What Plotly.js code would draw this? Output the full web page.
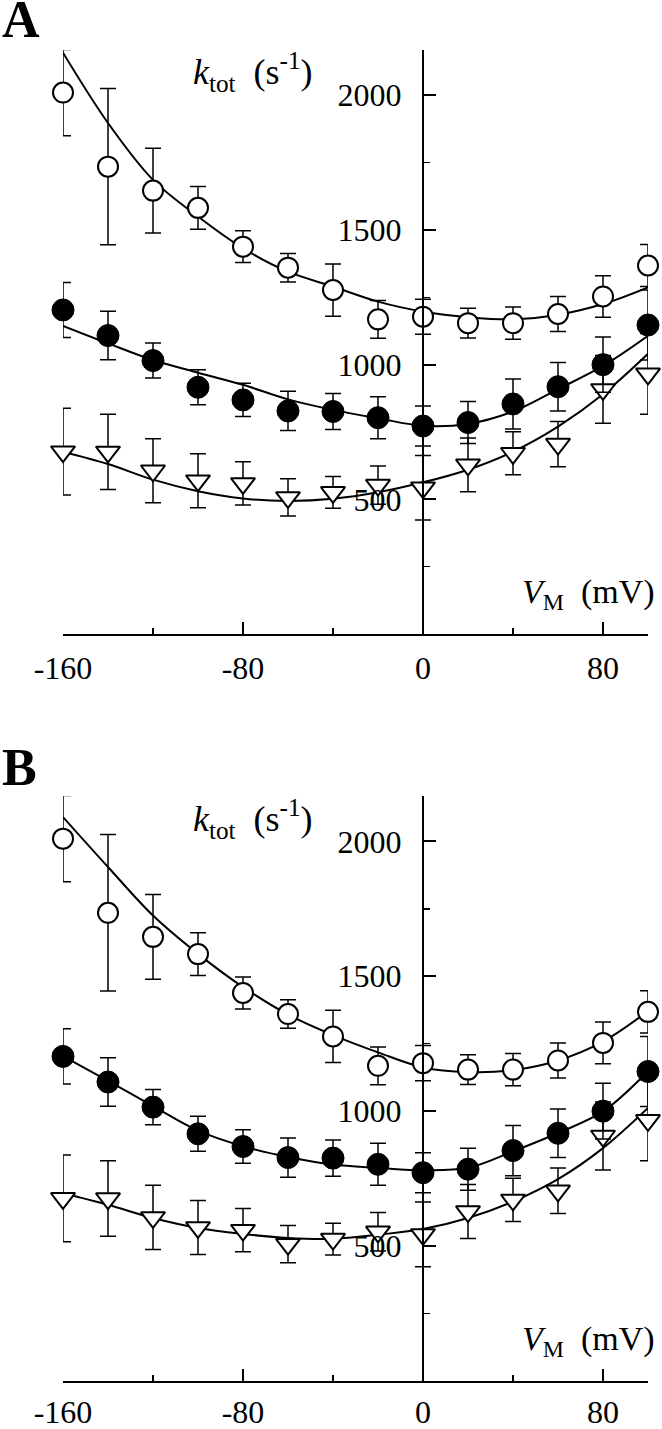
<!DOCTYPE html>
<html>
<head>
<meta charset="utf-8">
<script src="https://cdn.plot.ly/plotly-3.0.1.min.js"></script>
<style>
  html, body { margin: 0; padding: 0; background: #fff; }
  #chart { width: 662px; height: 1429px; }
</style>
</head>
<body>
<div id="chart"></div>
<script>
// ---- data ----
const voltage = [-160, -140, -120, -100, -80, -60, -40, -20, 0, 20, 40, 60, 80, 100];

const openY    = [2010, 1735, 1646, 1582, 1438, 1360, 1277, 1168, 1178, 1154, 1154, 1188, 1253, 1368];
const openErr  = [160, 290, 157, 79, 59, 53, 97, 70, 65, 55, 60, 65, 77, 78];
const filledY  = [1203, 1108, 1015, 916, 869, 828, 826, 803, 772, 785, 854, 918, 1000, 1147];
const filledErr= [102, 90, 65, 65, 62, 73, 67, 78, 74, 78, 93, 90, 103, 130];
const triY     = [677, 676, 606, 569, 559, 507, 526, 553, 543, 628, 671, 705, 908, 966];
const triErr   = [161, 140, 119, 100, 80, 69, 59, 71, 120, 100, 80, 84, 126, 150];

// fitted curves, panel A
const fitOpenA   = [2158, 1897, 1686, 1550, 1432, 1345, 1290, 1234, 1197, 1176, 1168, 1185, 1225, 1287];
const fitFilledA = [1144, 1079, 1017, 970, 925, 871, 832, 801, 773, 780, 826, 909, 995, 1107];
const fitTriA    = [677, 631, 573, 530, 503, 494, 502, 526, 563, 610, 677, 770, 890, 1040];
// fitted curves, panel B
const fitOpenB   = [2090, 1905, 1725, 1583, 1460, 1358, 1282, 1218, 1162, 1145, 1152, 1188, 1258, 1371];
const fitFilledB = [1204, 1112, 1019, 928, 870, 830, 802, 790, 781, 790, 851, 919, 999, 1148];
const fitTriB    = [696, 653, 604, 567, 545, 530, 527, 542, 563, 604, 665, 748, 863, 1012];

const xTickVals = [-160, -80, 0, 80];
const xTickText = ['-160', '-80', '0', '80'];
const xMinorVals = [-120, -40, 40];
const yTickVals = [500, 1000, 1500, 2000];
const yTickText = ['500', '1000', '1500', '2000'];
const yMinorVals = [250, 750, 1250, 1750];

// ---- figure geometry ----
const W = 662, H = 1429, ML = 63, MR = 14;
const PW = W - ML - MR;
const px = p => (p - ML) / PW;
const py = p => 1 - p / H;

const FONT = 'Liberation Serif, Times New Roman, serif';

function panel(xa, ya, fits) {
  const xs = xa === 'x' ? 'x' : 'x2';
  const ys = ya === 'y' ? 'y' : 'y2';
  const tr = [];
  fits.forEach(f => tr.push({
    x: voltage, y: f, xaxis: xs, yaxis: ys, mode: 'lines', type: 'scatter',
    line: {color: '#000', width: 2, shape: 'spline', smoothing: 1}, hoverinfo: 'skip', showlegend: false
  }));
  const eb = arr => ({type: 'data', array: arr, visible: true, color: '#000', thickness: 1.5, width: 8});
  tr.push({x: voltage, y: triY, xaxis: xs, yaxis: ys, mode: 'markers', type: 'scatter', cliponaxis: false,
    error_y: eb(triErr), marker: {symbol: 'triangle-down', size: 21, color: '#fff', line: {color: '#000', width: 2}}, showlegend: false});
  tr.push({x: voltage, y: filledY, xaxis: xs, yaxis: ys, mode: 'markers', type: 'scatter', cliponaxis: false,
    error_y: eb(filledErr), marker: {symbol: 'circle', size: 22, color: '#000', line: {color: '#000', width: 1}}, showlegend: false});
  tr.push({x: voltage, y: openY, xaxis: xs, yaxis: ys, mode: 'markers', type: 'scatter', cliponaxis: false,
    error_y: eb(openErr), marker: {symbol: 'circle', size: 20, color: '#fff', line: {color: '#000', width: 2}}, showlegend: false});
  return tr;
}

const traces = [].concat(
  panel('x', 'y', [fitOpenA, fitFilledA, fitTriA]),
  panel('x2', 'y2', [fitOpenB, fitFilledB, fitTriB])
);

function xaxisDef(anchor, standoff) {
  return {
    domain: [0, 1], range: [-160, 100], anchor: anchor, fixedrange: true,
    showline: true, linecolor: '#000', linewidth: 2,
    ticks: 'inside', ticklen: 12, tickwidth: 2, tickcolor: '#000',
    tickmode: 'array', tickvals: xTickVals, ticktext: xTickText,
    tickfont: {family: FONT, size: 32, color: '#000'}, ticklabelstandoff: standoff,
    minor: {tickmode: 'array', tickvals: xMinorVals, ticks: 'inside', ticklen: 6, tickwidth: 1.5, tickcolor: '#000', showgrid: false},
    showgrid: false, zeroline: false
  };
}
function yaxisDef(anchor, dom) {
  return {
    domain: dom, range: [0, 2168], anchor: 'free', position: px(423), side: 'left', fixedrange: true,
    showline: true, linecolor: '#000', linewidth: 2,
    ticks: 'inside', ticklen: 12, tickwidth: 2, tickcolor: '#000',
    tickmode: 'array', tickvals: yTickVals, ticktext: yTickText,
    tickfont: {family: FONT, size: 32, color: '#000'}, ticklabelstandoff: 14,
    minor: {tickmode: 'array', tickvals: yMinorVals, ticks: 'inside', ticklen: 6, tickwidth: 1.5, tickcolor: '#000', showgrid: false},
    showgrid: false, zeroline: false
  };
}

function labels(offset) {
  return [
    {xref: 'paper', yref: 'paper', x: px(0), y: py(20 + offset), xanchor: 'left', yanchor: 'middle',
     text: '<b>' + (offset ? 'B' : 'A') + '</b>', showarrow: false, font: {family: FONT, size: 52, color: '#000'}},
    {xref: 'paper', yref: 'paper', x: px(191), y: py(72 + offset), xanchor: 'left', yanchor: 'middle',
     text: '<i>k</i><sub>tot</sub>&nbsp;&nbsp;(s<sup>-1</sup>)', showarrow: false, font: {family: FONT, size: 36, color: '#000'}},
    {xref: 'paper', yref: 'paper', x: px(657), y: py(594 + offset), xanchor: 'right', yanchor: 'middle',
     text: '<i>V</i><sub>M</sub>&nbsp;&nbsp;(mV)', showarrow: false, font: {family: FONT, size: 34, color: '#000'}}
  ];
}

const layout = {
  width: W, height: H,
  margin: {l: ML, r: MR, t: 0, b: 0},
  paper_bgcolor: '#fff', plot_bgcolor: '#fff',
  showlegend: false,
  font: {family: FONT, color: '#000'},
  xaxis: xaxisDef('y', 5),
  yaxis: yaxisDef('x', [py(634), py(50)]),
  xaxis2: xaxisDef('y2', 2),
  yaxis2: yaxisDef('x2', [py(1381), py(796)]),
  annotations: labels(0).concat(labels(747))
};

Plotly.newPlot('chart', traces, layout, {displayModeBar: false, staticPlot: true});
</script>
</body>
</html>
